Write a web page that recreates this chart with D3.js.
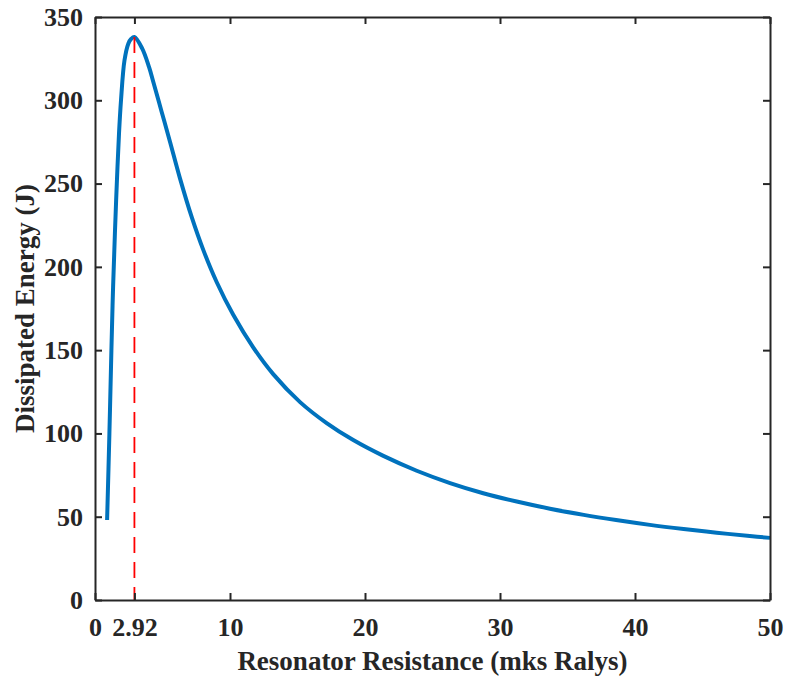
<!DOCTYPE html>
<html>
<head>
<meta charset="utf-8">
<script src="https://cdn.jsdelivr.net/npm/d3@7"></script>
<style>
  html, body { margin: 0; padding: 0; background: #fff; }
  svg { display: block; }
  text { font-family: "Liberation Serif", "Times New Roman", serif; font-weight: bold; fill: #262626; }
</style>
</head>
<body>
<svg id="chart" width="789" height="684"></svg>
<script>
// Data
const resistance = [0.896, 1.067, 1.215, 1.333, 1.474, 1.615, 1.778, 1.926, 2.185, 2.467, 2.67, 2.92, 3.5, 4.0, 4.32, 4.94, 5.56, 6.3, 7.16, 8.02, 9.01, 10.24, 11.73, 13.2, 15.19, 17.16, 19.13, 21.36, 23.83, 26.3, 28.76, 31.24, 33.7, 36.2, 38.6, 41.1, 43.6, 46.05, 48.5, 50];
const energy = [48, 100, 150, 186, 220, 250, 280, 300, 324, 334, 336.8, 338, 331, 320, 311, 293, 275, 253, 230, 210.2, 190.9, 171.2, 151.5, 135.6, 118.8, 106.2, 96, 86.5, 77.6, 70.2, 64.1, 59.1, 54.8, 51.1, 48, 45.1, 42.6, 40.4, 38.4, 37.3];
const peakX = 2.92;
const peakY = 338;
const xTicks = [0, 2.92, 10, 20, 30, 40, 50];
const xTickLabels = ["0", "2.92", "10", "20", "30", "40", "50"];
const yTicks = [0, 50, 100, 150, 200, 250, 300, 350];
const xTitle = "Resonator Resistance (mks Ralys)";
const yTitle = "Dissipated Energy (J)";

const svg = d3.select("#chart");
const mLeft = 95, mRight = 770, mTop = 17, mBottom = 600;
const x = d3.scaleLinear().domain([0, 50]).range([mLeft, mRight]);
const y = d3.scaleLinear().domain([0, 350]).range([mBottom, mTop]);
const axisColor = "#262626";
const tickLen = 7;

// Curve
const pts = resistance.map((r, i) => [r, energy[i]]);
const line = d3.line().x(d => x(d[0])).y(d => y(d[1])).curve(d3.curveCatmullRom.alpha(0.5));
svg.append("path").datum(pts)
  .attr("d", line)
  .attr("fill", "none")
  .attr("stroke", "#0072BD")
  .attr("stroke-width", 4)
  .attr("stroke-linejoin", "round");

// Dashed marker line at peak
svg.append("line")
  .attr("x1", x(peakX)).attr("x2", x(peakX))
  .attr("y1", y(peakY)).attr("y2", y(0))
  .attr("stroke", "#FF0000")
  .attr("stroke-width", 1.8)
  .attr("stroke-dasharray", "16,9");

// Axes
const xAxisB = d3.axisBottom(x).tickValues(xTicks).tickFormat((d, i) => xTickLabels[i]).tickSizeInner(-tickLen).tickSizeOuter(0).tickPadding(18);
const xAxisT = d3.axisTop(x).tickValues(xTicks).tickFormat("").tickSizeInner(-tickLen).tickSizeOuter(0);
const yAxisL = d3.axisLeft(y).tickValues(yTicks).tickSizeInner(-tickLen).tickSizeOuter(0).tickPadding(12);
const yAxisR = d3.axisRight(y).tickValues(yTicks).tickFormat("").tickSizeInner(-tickLen).tickSizeOuter(0);

function style(g) {
  g.select(".domain").attr("stroke", axisColor).attr("stroke-width", 2);
  g.selectAll(".tick line").attr("stroke", axisColor).attr("stroke-width", 2);
  g.selectAll(".tick text").attr("font-size", 26).attr("fill", axisColor);
  g.attr("font-family", null).attr("font-size", null);
}
svg.append("g").attr("transform", `translate(0,${mBottom})`).call(xAxisB).call(style);
svg.append("g").attr("transform", `translate(0,${mTop})`).call(xAxisT).call(style);
svg.append("g").attr("transform", `translate(${mLeft},0)`).call(yAxisL).call(style);
svg.append("g").attr("transform", `translate(${mRight},0)`).call(yAxisR).call(style);

// Titles
svg.append("text")
  .attr("x", (mLeft + mRight) / 2).attr("y", 670)
  .attr("text-anchor", "middle")
  .attr("font-size", 27)
  .text(xTitle);
svg.append("text")
  .attr("transform", `translate(34,${(mTop + mBottom) / 2}) rotate(-90)`)
  .attr("text-anchor", "middle")
  .attr("font-size", 27)
  .text(yTitle);
</script>
</body>
</html>
